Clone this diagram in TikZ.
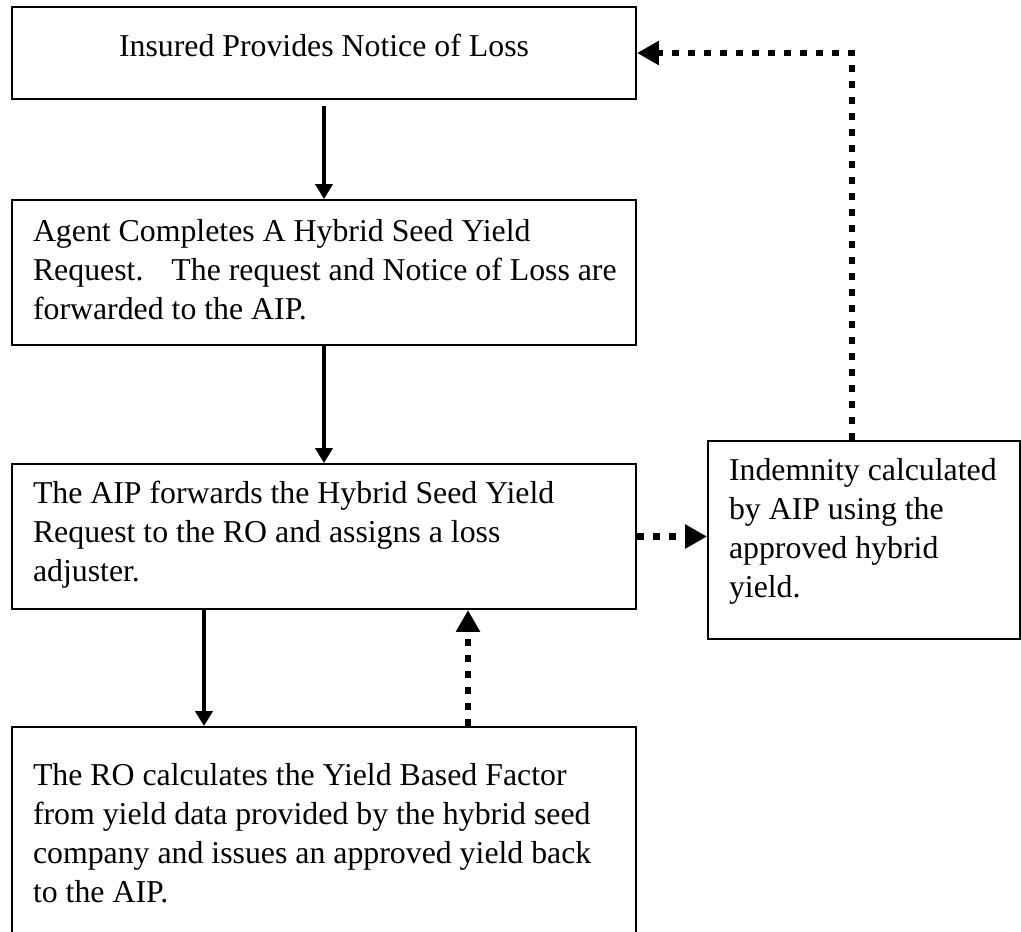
\documentclass[tikz,border=0pt]{standalone}
\usepackage{fontspec}
\setmainfont{Liberation Serif}
\usetikzlibrary{arrows.meta}
\newcommand\natsp{\spaceskip=0pt\xspaceskip=0pt\relax}
\begin{document}
\begin{tikzpicture}[x=0.375pt,y=-0.375pt,
  box/.style={draw, line width=0.75pt, inner xsep=7.875pt, inner ysep=2pt,
    font=\fontsize{11.93pt}{14.6pt}\selectfont, minimum width=234pt},
  para/.style={box, text width=218.25pt, align=left},
  flow/.style={line width=1.5pt, -{Triangle[width=6.4pt,length=5.6pt]}},
  dots/.style={line width=2.6pt, dash pattern=on 2.6pt off 3.4pt,
    -{Triangle[width=8.6pt,length=8.2pt]}}]
\useasboundingbox (0,0) rectangle (1021,931);
\clip (0,0) rectangle (1021,931);

\node[box, minimum height=34.5pt, text depth=6pt] (b1) at (324,53)
  {Insured Provides Notice of Loss};
\node[para, minimum height=54.375pt, text depth=31.8pt] (b2) at (324,272.5)
  {\natsp\mbox{Agent Completes A Hybrid Seed Yield}\\
   \mbox{Request.\hspace{10.5pt}The request and Notice of Loss are}\\
   \mbox{forwarded to the AIP.}};
\node[para, minimum height=54.375pt, text depth=33.3pt] (b3) at (324,536.5)
  {\natsp\mbox{The AIP forwards the Hybrid Seed Yield}\\
   \mbox{Request to the RO and assigns a loss}\\
   \mbox{adjuster.}};
\node[box, text width=101.25pt, align=left, minimum width=117pt,
  minimum height=74.25pt, text depth=52.8pt] (b4) at (864,540)
  {\natsp\mbox{Indemnity calculated}\\
   \mbox{by AIP using the}\\
   \mbox{approved hybrid}\\
   \mbox{yield.}};
\node[para, minimum height=78.375pt, text depth=43pt] (b5) at (324,831.5)
  {\natsp\mbox{The RO calculates the Yield Based Factor}\\
   \mbox{from yield data provided by the hybrid seed}\\
   \mbox{company and issues an approved yield back}\\
   \mbox{to the AIP.}};

\draw[flow] ([yshift=-2.25pt]b1.south) -- (b2.north);
\draw[flow] (b2.south) -- (b3.north);
\draw[flow] ([xshift=-45pt]b3.south) -- ([xshift=-45pt]b5.north);
\draw[dots] ([xshift=54pt]b5.north) -- ([xshift=54pt]b3.south);
\draw[dots] (b3.east) -- (b3.east -| b4.west);
\draw[dots] ([xshift=-4.5pt]b4.north) |- (b1.east);
\end{tikzpicture}
\end{document}
